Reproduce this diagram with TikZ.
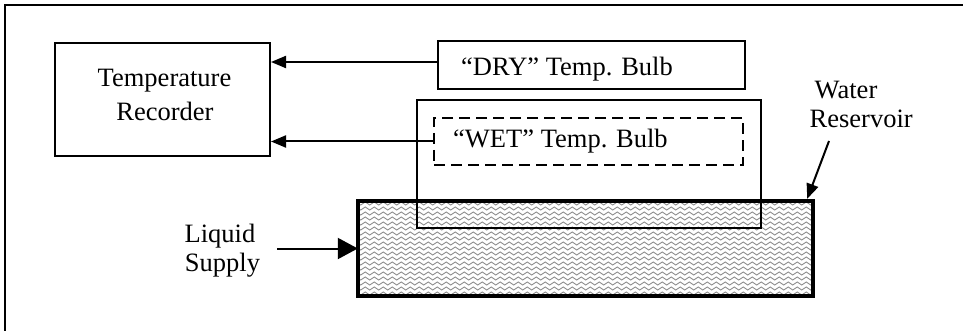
\documentclass[tikz,border=0pt]{standalone}
\usepackage{fontspec}
\setmainfont{Liberation Serif}
\usetikzlibrary{arrows.meta}
\begin{document}
\begin{tikzpicture}[x=1pt,y=-1pt,
  box/.style={draw,line width=2pt,inner sep=0pt},
  lbl/.style={inner sep=0pt,font=\fontsize{26.5}{31}\selectfont},
  conn/.style={line width=2pt,-{Triangle[length=15pt,width=12pt]}},
  wave/.style={draw=black!45,line width=0.9pt},
]
\useasboundingbox (0,0) rectangle (963,331);
% frame
\draw[line width=2pt] (5,331) -- (5,5) -- (963,5);

% reservoir fill (wavy pattern)
\node[inner sep=0pt,minimum width=455pt,minimum height=95pt] (res) at (585.5,248.5) {};
\begin{scope}
  \clip (res.south west) rectangle (res.north east);
  \foreach \r in {0,...,19} {
    \draw[wave] (354,{203.5+5*\r}) \foreach \k in {0,...,51} {
        sin ++(2.25,-1.5) cos ++(2.25,1.5) sin ++(2.25,1.5) cos ++(2.25,-1.5)};
  }
\end{scope}
\draw[line width=3.5pt] (res.south west) rectangle (res.north east);

% boxes
\node[box,minimum width=215pt,minimum height=113pt] (rec) at (162.5,99.5) {};
\node[box,minimum width=307pt,minimum height=48pt] (dry) at (591.5,65) {};
\node[box,minimum width=344pt,minimum height=128pt] (wet) at (589,164) {};
\node[draw,line width=2.5pt,dash pattern=on 11pt off 6pt,inner sep=0pt,
      minimum width=309pt,minimum height=47pt] (wb) at (588.5,141.5) {};

% texts
\node[lbl,anchor=base] (t1) at (164.5,87) {Temperature};
\node[lbl,anchor=base] (t2) at (165,121) {Recorder};
\node[lbl,anchor=base west] (t3) at (461,76) {“DRY” Temp. Bulb};
\node[lbl,anchor=base west] (t4) at (453,148) {“WET” Temp. Bulb};
\node[lbl,anchor=base] (t5) at (220,242.5) {Liquid};
\node[lbl,anchor=base] (t6) at (222.5,271.5) {Supply};
\node[lbl,anchor=base west] (t7) at (814.5,99) {Water};
\node[lbl,anchor=base west] (t8) at (809.5,128) {Reservoir};

% connectors
\draw[conn] ([yshift=3pt]dry.west) -- ([yshift=3pt]dry.west -| rec.east);
\draw[conn] (wb.west) -- (wb.west -| rec.east);
\coordinate (ls) at (277,248.5);
\draw[line width=2pt,-{Triangle[length=20pt,width=21pt]}] (ls) -- (res.west);
\coordinate (wr) at (829,141);
\draw[conn] (wr) -- ([xshift=-6pt,yshift=2pt]res.north east);
\end{tikzpicture}
\end{document}
